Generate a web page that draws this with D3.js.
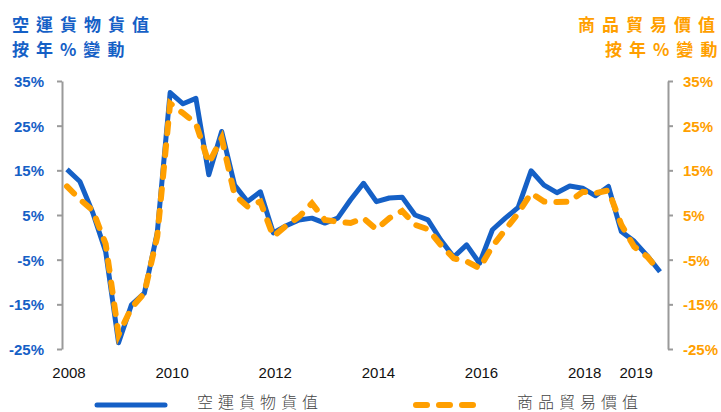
<!DOCTYPE html>
<html>
<head>
<meta charset="utf-8">
<script src="https://cdnjs.cloudflare.com/ajax/libs/d3/7.8.5/d3.min.js"></script>
<style>
  body { margin: 0; background: #fff; }
  svg { display: block; }
</style>
</head>
<body>
<svg id="chart" width="721" height="412"></svg>
<script>
// quarterly, 2008 Q1 .. 2019 Q3
var quarters = [];
for (var y = 2008; y <= 2019; y++) {
    for (var q = 1; q <= 4; q++) {
        if (y === 2019 && q > 3) break;
        quarters.push(y + "Q" + q);
    }
}

// air cargo value, y/y %
var airCargo = [15.2, 12.5, 5.5, -3.2, -23.6, -15.1, -12.5, 1.0,
    32.4, 29.9, 31.1, 14.0, 23.7, 11.7, 8.0, 10.2,
    1.0, 2.6, 3.9, 4.3, 3.2, 4.3, 8.4, 12.1,
    8.0, 8.8, 9.0, 5.0, 3.9, -0.6, -4.4, -1.7,
    -5.8, 1.7, 4.3, 6.7, 14.9, 11.7, 10.0, 11.5,
    11.0, 9.3, 11.4, 1.3, -0.9, -4.1, -7.7];

// merchandise trade value, y/y %
var tradeValue = [11.4, 8.5, 6.0, -1.5, -21.8, -15.8, -12.5, 0.2,
    30.0, 27.8, 25.5, 16.6, 22.2, 9.5, 6.9, 8.0,
    0.2, 2.6, 4.6, 7.6, 3.9, 3.5, 3.2, 4.3,
    1.8, 4.3, 5.9, 2.8, 1.8, -1.7, -4.7, -5.4,
    -6.9, -2.0, 1.7, 5.4, 9.9, 8.0, 7.9, 8.0,
    10.2, 9.9, 10.5, 2.8, -2.1, -4.3, -7.7];

var yTicks = [35, 25, 15, 5, -5, -15, -25];
var xLabels = [["2008Q1", "2008"], ["2010Q1", "2010"], ["2012Q1", "2012"],
    ["2014Q1", "2014"], ["2016Q1", "2016"], ["2018Q1", "2018"], ["2019Q1", "2019"]];

var blue = "#1560c6", orange = "#ff9f00";
var latinFont = "'Liberation Sans', Arial, sans-serif";
var cjkFont = "'Noto Sans CJK TC', 'Noto Sans CJK SC', sans-serif";

var svg = d3.select("#chart");

var x = d3.scalePoint().domain(quarters).range([67, 660]);
var y = d3.scaleLinear().domain([-25, 35]).range([349, 81]);

// left axis
var leftAxis = svg.append("g")
    .attr("transform", "translate(62,0)")
    .call(d3.axisLeft(y).tickValues(yTicks).tickSize(5).tickSizeOuter(0)
        .tickFormat(function(d) { return d + "%"; }));
leftAxis.select(".domain").attr("stroke", "#9a9a9a").attr("stroke-width", 2);
leftAxis.selectAll(".tick line").attr("stroke", "#9a9a9a").attr("stroke-width", 2);
leftAxis.selectAll(".tick text")
    .attr("x", -18)
    .attr("dy", "0.36em")
    .style("font-family", latinFont)
    .style("font-size", "15px")
    .style("font-weight", "bold")
    .attr("fill", blue);

// right axis
var rightAxis = svg.append("g")
    .attr("transform", "translate(668,0)")
    .call(d3.axisRight(y).tickValues(yTicks).tickSize(5).tickSizeOuter(0)
        .tickFormat(function(d) { return d + "%"; }));
rightAxis.select(".domain").attr("stroke", "#9a9a9a").attr("stroke-width", 2);
rightAxis.selectAll(".tick line").attr("stroke", "#9a9a9a").attr("stroke-width", 2);
rightAxis.selectAll(".tick text")
    .attr("x", 15)
    .attr("dy", "0.36em")
    .style("font-family", latinFont)
    .style("font-size", "15px")
    .style("font-weight", "bold")
    .attr("fill", orange);

// year labels (no axis line in the original)
svg.append("g").selectAll("text")
    .data(xLabels)
    .enter()
    .append("text")
    .attr("x", function(d) { return x(d[0]) + 2; })
    .attr("y", 378)
    .attr("text-anchor", "middle")
    .style("font-family", latinFont)
    .style("font-size", "15px")
    .attr("fill", "#111")
    .text(function(d) { return d[1]; });

var line = d3.line()
    .x(function(d, i) { return x(quarters[i]); })
    .y(function(d) { return y(d); });

svg.append("path")
    .datum(airCargo)
    .attr("d", line)
    .attr("fill", "none")
    .attr("stroke", blue)
    .attr("stroke-width", 5)
    .attr("stroke-linejoin", "round");

svg.append("path")
    .datum(tradeValue)
    .attr("d", line)
    .attr("fill", "none")
    .attr("stroke", orange)
    .attr("stroke-width", 6)
    .attr("stroke-linecap", "round")
    .attr("stroke-dasharray", "10,12");

// titles: spaced text, last char without trailing spacing
function spacedTitle(g, x0, y0, str) {
    var t = g.append("text").attr("x", x0).attr("y", y0);
    t.append("tspan").style("letter-spacing", "7px").text(str.slice(0, -1));
    t.append("tspan").style("letter-spacing", "0px").text(str.slice(-1));
}

var titleL = svg.append("g")
    .style("font-family", cjkFont)
    .style("font-size", "17px")
    .style("font-weight", "bold")
    .attr("fill", blue);
spacedTitle(titleL, 12, 31, "空運貨物貨值");
spacedTitle(titleL, 12, 56, "按年%變動");

var titleR = svg.append("g")
    .style("font-family", cjkFont)
    .style("font-size", "17px")
    .style("font-weight", "bold")
    .attr("fill", orange);
spacedTitle(titleR, 578, 31, "商品貿易價值");
spacedTitle(titleR, 605, 56, "按年%變動");

// legend
var legend = svg.append("g");
legend.append("line")
    .attr("x1", 97).attr("x2", 165).attr("y1", 405).attr("y2", 405)
    .attr("stroke", blue).attr("stroke-width", 5).attr("stroke-linecap", "round");
legend.append("line")
    .attr("x1", 416).attr("x2", 475).attr("y1", 405).attr("y2", 405)
    .attr("stroke", orange).attr("stroke-width", 6).attr("stroke-linecap", "round")
    .attr("stroke-dasharray", "11,12");
legend.selectAll("text")
    .data([[197, "空運貨物貨值"], [517, "商品貿易價值"]])
    .enter()
    .append("text")
    .attr("x", function(d) { return d[0]; })
    .attr("y", 408)
    .style("font-family", cjkFont)
    .style("font-size", "16px")
    .style("font-weight", "300")
    .style("letter-spacing", "5px")
    .attr("fill", "#444")
    .text(function(d) { return d[1]; });
</script>
</body>
</html>
